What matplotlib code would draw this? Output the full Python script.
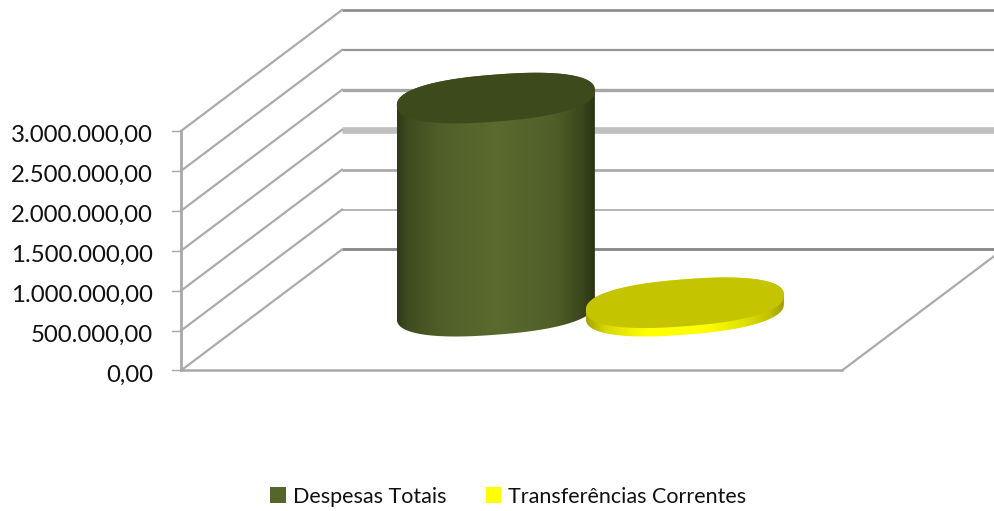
import numpy as np
import matplotlib
matplotlib.use("Agg")
import matplotlib.pyplot as plt
from matplotlib.colors import LinearSegmentedColormap
from matplotlib.patches import Patch, Polygon

plt.rcParams['font.family'] = ['Lato', 'DejaVu Sans']

categories = ['Despesas Totais', 'Transferências Correntes']
values = [2670000, 106000]
ticks = [0, 500000, 1000000, 1500000, 2000000, 2500000, 3000000]
tick_labels = ['0,00', '500.000,00', '1.000.000,00', '1.500.000,00',
               '2.000.000,00', '2.500.000,00', '3.000.000,00']
positions = [0.357, 0.643]

grid_colors = ['#858585', '#a0a0a0', '#ababab', '#c0c0c0', '#a6a6a6', '#969696', '#8a8a8a']
grid_widths = [2.0, 1.1, 2.0, 4.8, 2.4, 1.6, 1.9]

X0, X1, XEND = 181.0, 842.0, 995.0
Y0 = 370.5
KV = 239.5 / 3000000
DX, DY = 161.0, 121.0


def px(pos, depth=0.0):
    return X0 + pos * (X1 - X0) + depth * DX


def py(v, depth=0.0):
    return Y0 - v * KV - depth * DY


fig = plt.figure(figsize=(9.95, 5.11), dpi=100)
ax = fig.add_axes([0, 0, 1, 1])
ax.set_xlim(0, 995)
ax.set_ylim(511, 0)
ax.axis('off')

# walls
for v, lab, c, w in zip(ticks, tick_labels, grid_colors, grid_widths):
    ax.plot([px(0, 1), XEND], [py(v, 1), py(v, 1)], color=c, lw=w, solid_capstyle='butt', zorder=1)
    ax.plot([px(0), px(0, 1)], [py(v), py(v, 1)], color='#ababab', lw=1.6, zorder=1)
    ax.plot([px(0) - 9, px(0)], [py(v), py(v)], color='#a8a8a8', lw=1.0, zorder=1)
    ax.text(153, py(v) + 4.5, lab, ha='right', va='center', fontsize=17.3, color='#111111')
ax.plot([px(0), px(0)], [py(0), py(ticks[-1])], color='#a8a8a8', lw=2.0, zorder=2)
ax.plot([px(0), px(1)], [py(0), py(0)], color='#a8a8a8', lw=1.8, zorder=2)
ax.plot([px(1), XEND], [py(0), py(0) - (XEND - px(1)) * DY / DX], color='#ababab', lw=1.6, zorder=2)

# cylinders
RX, RY, TILT = 99.0, 23.5, 7.5
DEPTH = 0.49
BLUNT = 0.85
t = np.linspace(0, 2 * np.pi, 241)
ct = np.sign(np.cos(t)) * np.abs(np.cos(t)) ** BLUNT
st = np.sign(np.sin(t)) * np.abs(np.sin(t)) ** BLUNT


def ell(cx, cy):
    return cx + RX * ct, cy + RY * st - TILT * ct


side_maps = [
    LinearSegmentedColormap.from_list('g', [(0, '#2f3a17'), (0.06, '#404d20'), (0.22, '#505f29'),
                                            (0.5, '#5a6b2e'), (0.8, '#4f5f28'), (0.94, '#3a461c'),
                                            (1, '#2a3312')]),
    LinearSegmentedColormap.from_list('y', [(0, '#a5a500'), (0.1, '#d8d800'), (0.3, '#ffff00'),
                                            (0.6, '#ffff00'), (0.8, '#e0e000'), (0.93, '#c0c000'),
                                            (1, '#a0a000')]),
]
top_colors = ['#3d4a1c', '#c4c400']
gradient = np.linspace(0, 1, 256).reshape(1, -1)
for i, (pos, val) in enumerate(zip(positions, values)):
    z = 4 + i * 2
    cx = px(pos, DEPTH)
    ybase, ytop = py(0, DEPTH), py(val, DEPTH)
    xb, yb = ell(cx, ybase)
    xt, yt = ell(cx, ytop)
    lower = np.sin(t) >= 0
    order = np.argsort(xb[lower])
    upper_order = np.argsort(xt[~lower])
    outline = np.column_stack([
        np.r_[xb[lower][order], xt[~lower][upper_order][::-1]],
        np.r_[yb[lower][order], yt[~lower][upper_order][::-1]],
    ])
    clip = Polygon(outline, closed=True, transform=ax.transData, fc='none', ec='none')
    ax.add_patch(clip)
    im = ax.imshow(gradient, cmap=side_maps[i], aspect='auto', zorder=z,
                   extent=[cx - RX, cx + RX, ybase + 40, ytop - 40], interpolation='bilinear')
    im.set_clip_path(clip)
    ax.fill(xt, yt, color=top_colors[i], lw=0, zorder=z + 1)
ax.set_xlim(0, 995)
ax.set_ylim(511, 0)

handles = [Patch(facecolor='#55662b', label=categories[0]),
           Patch(facecolor='#ffff00', label=categories[1])]
ax.legend(handles=handles, loc='center', bbox_to_anchor=(508.5 / 995, 1 - 496.5 / 511), ncol=2,
          frameon=False, fontsize=15.5, handlelength=0.7, handleheight=0.7, handletextpad=0.33,
          columnspacing=1.86, labelcolor='#111111', borderpad=0, borderaxespad=0)

fig.savefig('out.png', dpi=100)
